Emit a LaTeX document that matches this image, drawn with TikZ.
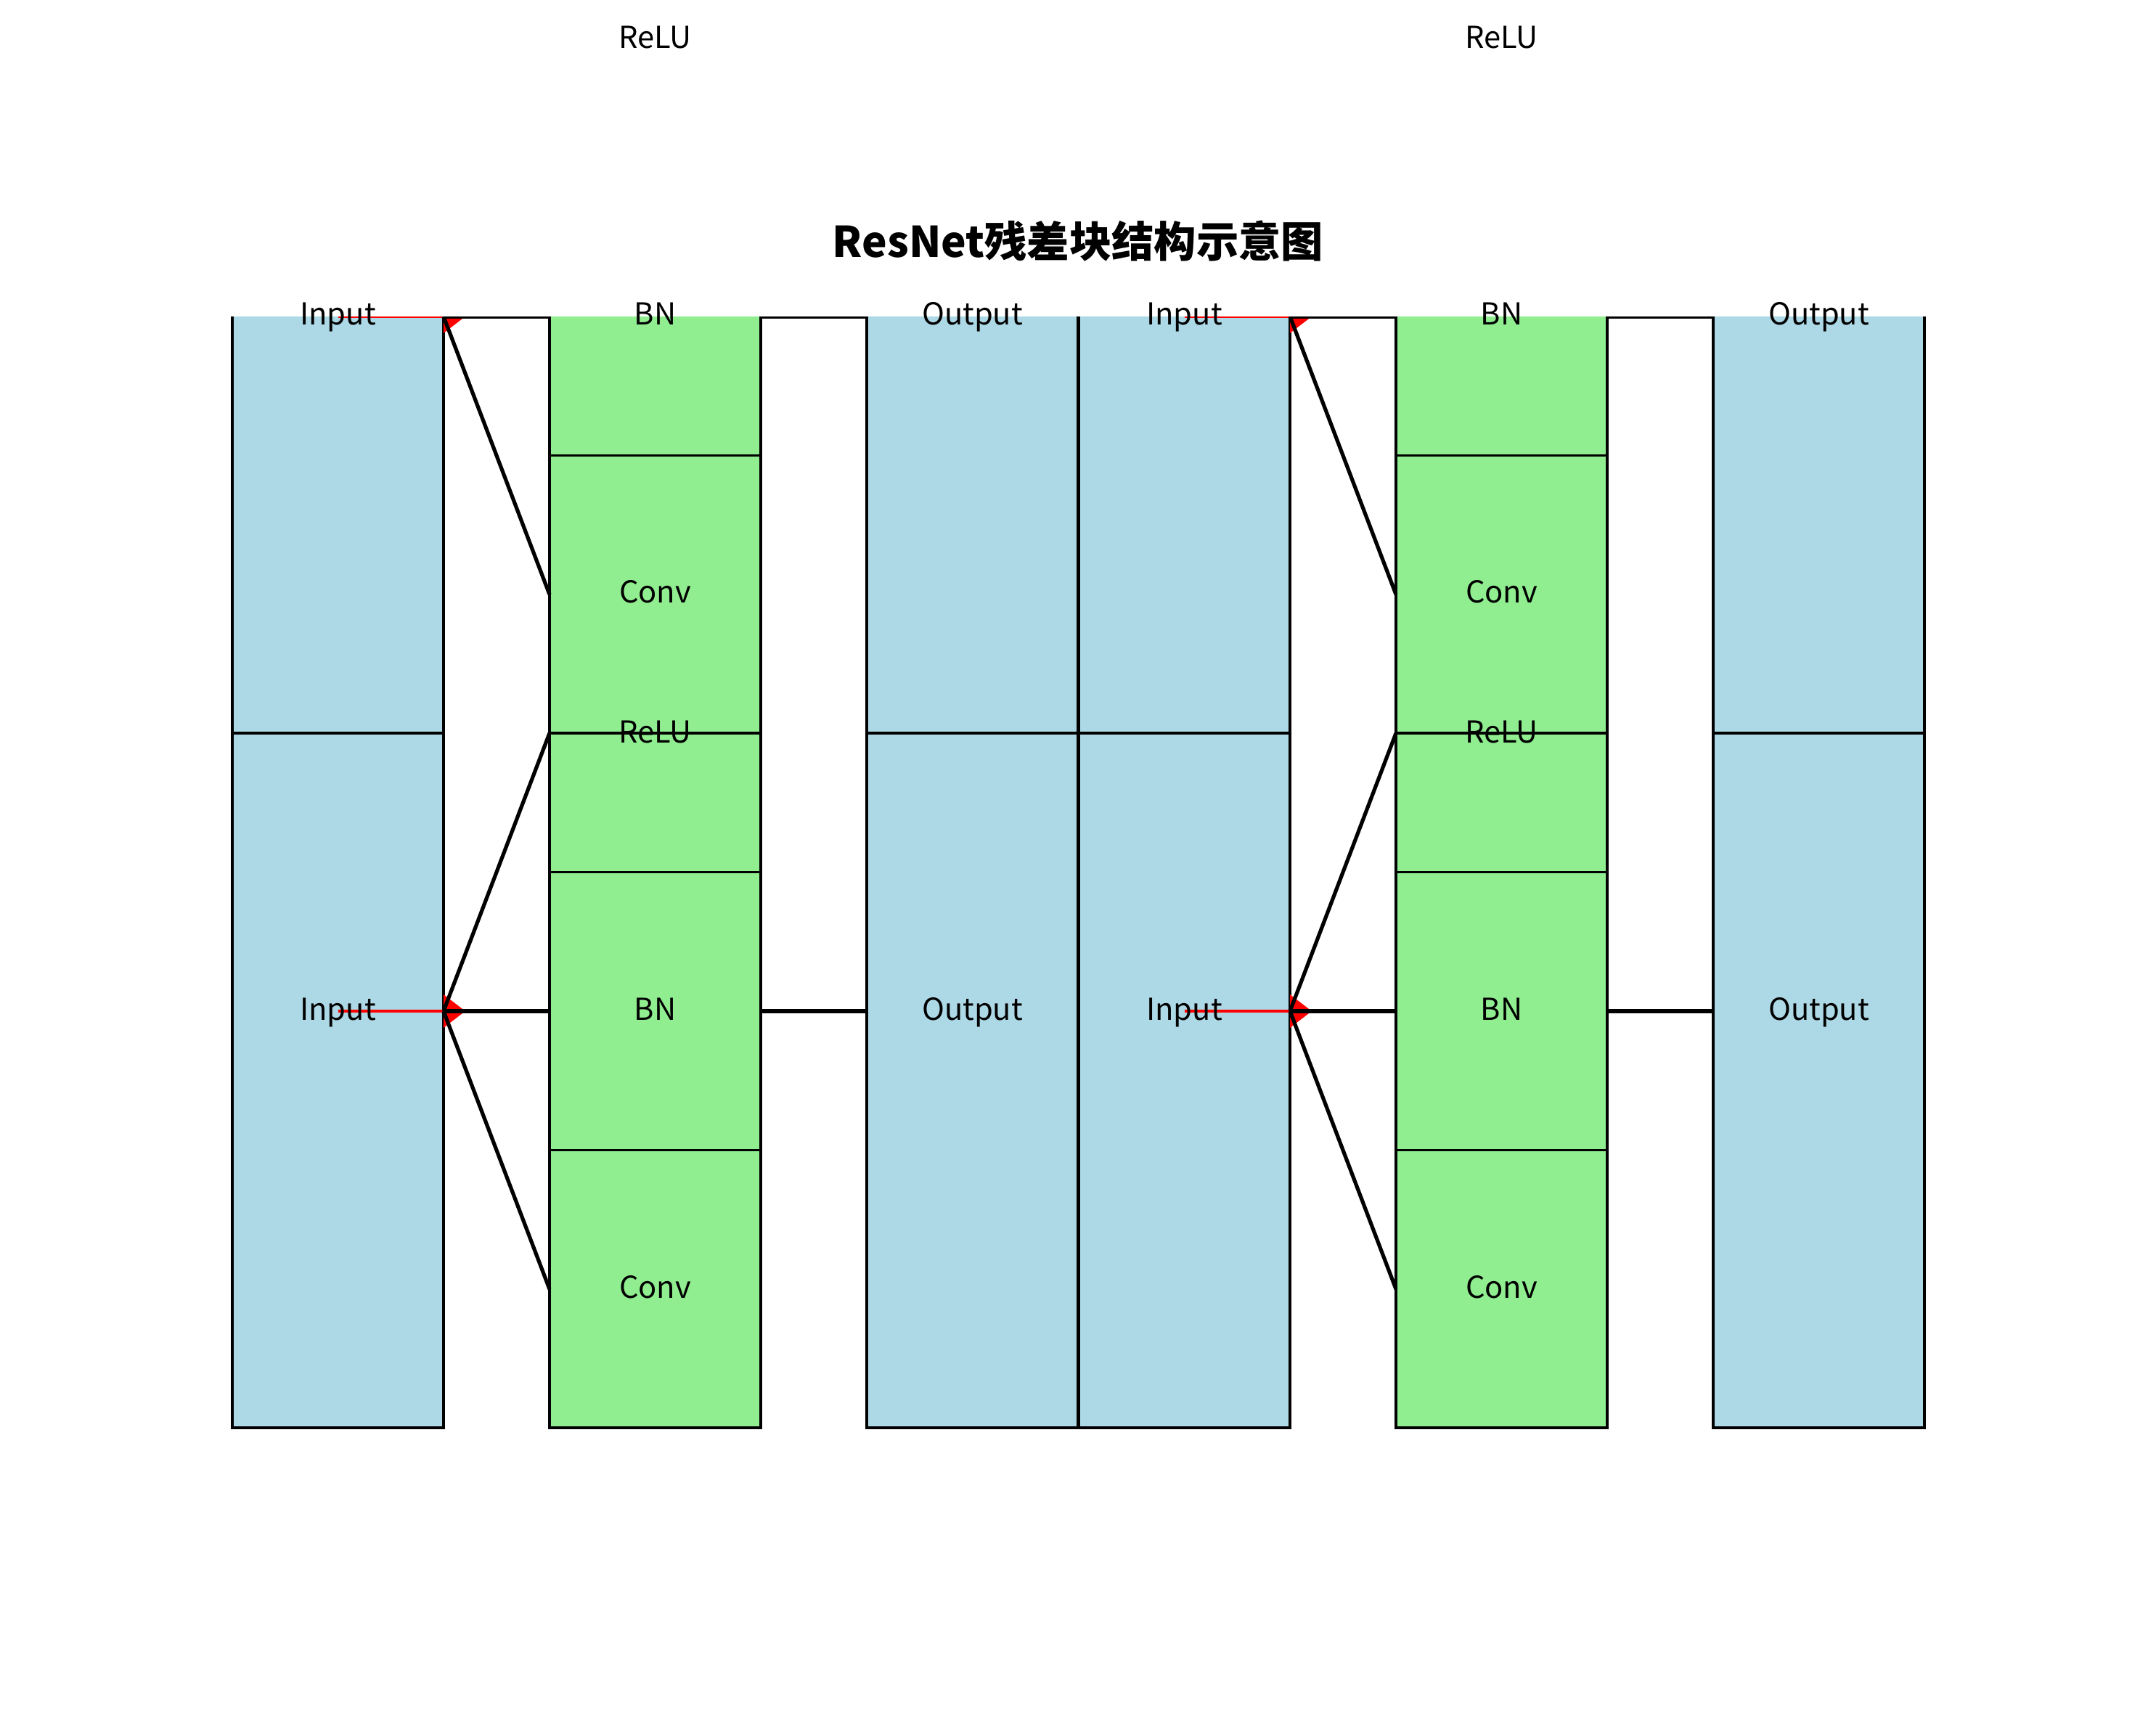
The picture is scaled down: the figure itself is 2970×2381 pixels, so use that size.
\documentclass[tikz,border=0pt]{standalone}
\usepackage{fontspec}
\setmainfont{Noto Sans CJK SC}
\usetikzlibrary{arrows.meta}
\definecolor{lblue}{HTML}{ADD8E6}
\definecolor{lgreen}{HTML}{90EE90}
\begin{document}
\begin{tikzpicture}[x=0.24pt,y=-0.24pt,
  bluebox/.style={fill=lblue,draw=black,line width=0.85pt},
  greenbox/.style={fill=lgreen,draw=black,line width=0.85pt},
  conn/.style={draw=black,line width=1.25pt},
  resid/.style={draw=red,line width=1pt,-{Triangle[length=7.2pt,width=10.8pt]}},
  lbl/.style={font=\fontsize{10}{12}\selectfont,inner sep=0pt,anchor=center,text height=7.2pt,text depth=0pt},
]
\useasboundingbox (0,0) rectangle (2970,2381);
\node[font=\bfseries\fontsize{14}{17}\selectfont,inner sep=0pt,text height=10.2pt,text depth=0pt] (title) at (1485,333) {ResNet残差块结构示意图};
\begin{scope}
\clip (0,436) rectangle (2970,2381);
\foreach \b/\o in {a/0,b/1166}{
  % input column
  \draw[bluebox] (320+\o,300) rectangle (611+\o,1010);
  \draw[bluebox] (320+\o,1010) rectangle (611+\o,1967);
  % residual block column
  \draw[greenbox] (757+\o,300) rectangle (1048+\o,627.5);
  \draw[greenbox] (757+\o,627.5) rectangle (1048+\o,1010);
  \draw[greenbox] (757+\o,1010) rectangle (1048+\o,1201.5);
  \draw[greenbox] (757+\o,1201.5) rectangle (1048+\o,1584.5);
  \draw[greenbox] (757+\o,1584.5) rectangle (1048+\o,1967);
  % output column
  \draw[bluebox] (1194+\o,300) rectangle (1485+\o,1010);
  \draw[bluebox] (1194+\o,1010) rectangle (1485+\o,1967);
  % ports
  \coordinate (inc1-\b) at (465.5+\o,436);
  \coordinate (inc2-\b) at (465.5+\o,1393);
  \coordinate (tip1-\b) at (641+\o,436);
  \coordinate (tip2-\b) at (641+\o,1393);
  \coordinate (inR1-\b) at (611+\o,436);
  \coordinate (inR2-\b) at (611+\o,1393);
  \coordinate (gL1-\b) at (757+\o,436);
  \coordinate (gLc1-\b) at (757+\o,819);
  \coordinate (gLr-\b) at (757+\o,1010);
  \coordinate (gL2-\b) at (757+\o,1393);
  \coordinate (gLc2-\b) at (757+\o,1776);
  \coordinate (gR1-\b) at (1048+\o,436);
  \coordinate (gR2-\b) at (1048+\o,1393);
  \coordinate (oL1-\b) at (1194+\o,436);
  \coordinate (oL2-\b) at (1194+\o,1393);
  % residual arrows
  \draw[resid] (inc1-\b) -- (tip1-\b);
  \draw[resid] (inc2-\b) -- (tip2-\b);
  % connections
  \draw[conn] (inR1-\b) -- (gL1-\b);
  \draw[conn] (inR1-\b) -- (gLc1-\b);
  \draw[conn] (inR2-\b) -- (gLr-\b);
  \draw[conn] (inR2-\b) -- (gL2-\b);
  \draw[conn] (inR2-\b) -- (gLc2-\b);
  \draw[conn] (gR1-\b) -- (oL1-\b);
  \draw[conn] (gR2-\b) -- (oL2-\b);
}
\end{scope}
\foreach \b/\o in {a/0,b/1166}{
  \node[lbl] (relu0-\b) at (902.5+\o,51) {ReLU};
  \node[lbl] (in1-\b) at (465.5+\o,432) {Input};
  \node[lbl] (bn1-\b) at (902.5+\o,432) {BN};
  \node[lbl] (out1-\b) at (1339.5+\o,432) {Output};
  \node[lbl] (conv1-\b) at (902.5+\o,815) {Conv};
  \node[lbl] (relu1-\b) at (902.5+\o,1008) {ReLU};
  \node[lbl] (in2-\b) at (465.5+\o,1390) {Input};
  \node[lbl] (bn2-\b) at (902.5+\o,1390) {BN};
  \node[lbl] (out2-\b) at (1339.5+\o,1390) {Output};
  \node[lbl] (conv2-\b) at (902.5+\o,1773) {Conv};
}
\end{tikzpicture}
\end{document}
